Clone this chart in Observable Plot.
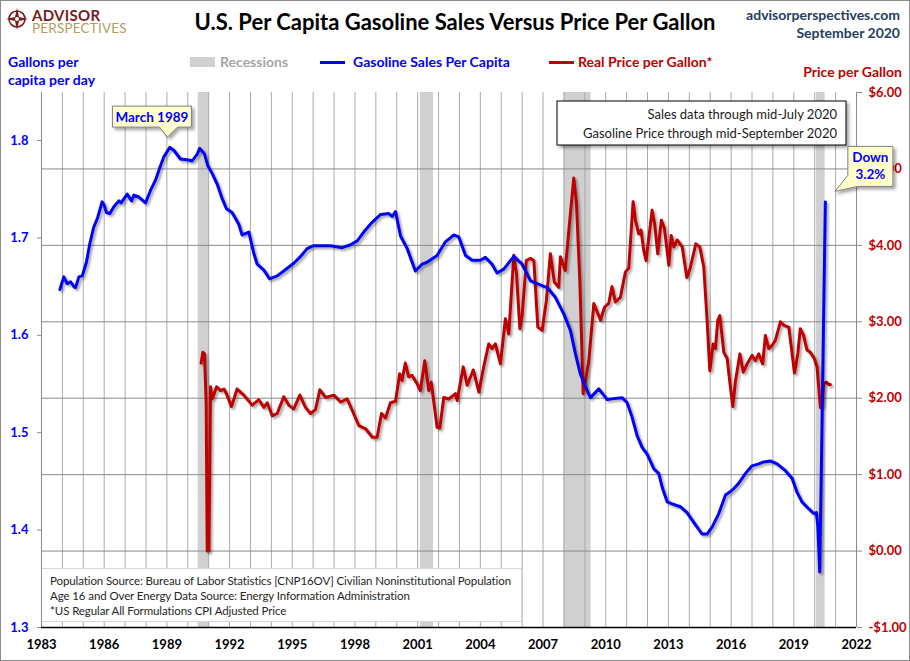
<!DOCTYPE html>
<html><head><meta charset="utf-8">
<script src="https://cdn.jsdelivr.net/npm/d3@7"></script>
<script src="https://cdn.jsdelivr.net/npm/@observablehq/plot@0.6"></script>
<style>
body{margin:0;background:#fff;font-family:Lato,"Open Sans",sans-serif;}
#wrap{position:relative;width:910px;height:661px;overflow:hidden;background:#fff;}
#header{position:relative;height:82px;}
.abs{position:absolute;white-space:nowrap;}
#frame{position:absolute;left:0;top:0;width:910px;height:661px;box-sizing:border-box;border:1px solid #8c8c8c;pointer-events:none;}
#overlay{position:absolute;left:0;top:0;pointer-events:none;}
#foot{position:absolute;left:42px;top:568px;width:480px;height:54px;background:#fff;border:1px solid #d6d6d6;border-left:none;box-sizing:border-box;font-size:11.5px;color:#262626;line-height:15px;padding:4px 0 0 8px;letter-spacing:-0.1px;}
</style></head><body>
<div id="wrap">
  <div id="header">
    <div class="abs" style="left:32px;top:9px;font-size:15px;font-weight:700;color:#7a1b1b;line-height:13px;letter-spacing:0.3px;">ADVISOR</div>
    <div class="abs" style="left:32px;top:22px;font-size:13.5px;font-weight:400;color:#b59c5c;line-height:12px;letter-spacing:0.2px;">PERSPECTIVES</div>
    <div class="abs" id="title" style="left:0;width:910px;text-align:center;top:9px;font-size:22px;font-weight:700;color:#000;line-height:26px;">U.S. Per Capita Gasoline Sales Versus Price Per Gallon</div>
    <div class="abs" style="right:10px;top:6px;font-size:14px;font-weight:700;color:#254061;line-height:18px;text-align:right;">advisorperspectives.com<br>September 2020</div>
    <div class="abs" style="left:8px;top:53px;font-size:14px;font-weight:700;color:#0000ff;line-height:18px;">Gallons per<br>capita per day</div>
    <div class="abs" style="right:8px;top:64px;font-size:14px;font-weight:700;color:#c00000;line-height:16px;">Price per Gallon</div>
    <div class="abs" style="left:190px;top:57px;width:25px;height:10px;background:#d0d0d0;"></div>
    <div class="abs" style="left:220px;top:54px;font-size:14px;font-weight:700;color:#a6a6a6;line-height:16px;">Recessions</div>
    <div class="abs" style="left:320px;top:61px;width:25px;height:3px;background:#0000ff;"></div>
    <div class="abs" style="left:353px;top:54px;font-size:14px;font-weight:700;color:#0000ff;line-height:16px;">Gasoline Sales Per Capita</div>
    <div class="abs" style="left:549px;top:61px;width:25px;height:3px;background:#c00000;"></div>
    <div class="abs" style="left:578px;top:54px;font-size:14px;font-weight:700;color:#c00000;line-height:16px;">Real Price per Gallon*</div>
  </div>
  <div id="chart"></div>
  <div id="foot">Population Source: Bureau of Labor Statistics [CNP16OV] Civilian Noninstitutional Population<br>Age 16 and Over Energy Data Source: Energy Information Administration<br>*US Regular All Formulations CPI Adjusted Price</div>
  <svg id="overlay" width="910" height="661"></svg>
  <div id="frame"></div>
</div>
<script>
// ---- Data ----
const salesYear = [1983.88,1984.07,1984.23,1984.39,1984.55,1984.63,1984.79,1984.95,1985.15,1985.31,1985.50,1985.69,1985.90,1986.01,1986.11,1986.27,1986.46,1986.70,1986.81,1987.10,1987.31,1987.42,1987.66,1987.98,1988.22,1988.45,1988.66,1988.85,1989.14,1989.33,1989.65,1990.05,1990.21,1990.45,1990.57,1990.80,1990.96,1991.17,1991.41,1991.65,1991.85,1992.12,1992.44,1992.60,1992.92,1993.16,1993.32,1993.64,1993.92,1994.28,1994.59,1995.07,1995.40,1995.71,1996.03,1996.35,1996.83,1997.39,1997.79,1998.11,1998.42,1998.82,1999.22,1999.62,1999.78,1999.94,2000.18,2000.50,2000.89,2001.21,2001.45,2001.93,2002.33,2002.73,2002.97,2003.29,2003.61,2004.00,2004.24,2004.56,2004.80,2005.12,2005.60,2006.00,2006.40,2006.72,2007.20,2007.59,2007.99,2008.31,2008.55,2008.79,2009.03,2009.27,2009.67,2010.07,2010.38,2010.78,2011.02,2011.26,2011.50,2011.74,2011.98,2012.30,2012.54,2012.70,2012.94,2013.18,2013.57,2013.89,2014.21,2014.61,2014.85,2015.09,2015.41,2015.73,2016.05,2016.36,2016.68,2017.00,2017.32,2017.56,2017.88,2018.20,2018.60,2018.92,2019.15,2019.39,2019.71,2019.95,2020.08,2020.15,2020.24,2020.33,2020.42,2020.51];
const salesValue = [1.647,1.660,1.653,1.655,1.650,1.649,1.660,1.661,1.675,1.694,1.711,1.721,1.737,1.733,1.726,1.725,1.732,1.738,1.736,1.745,1.738,1.744,1.742,1.736,1.749,1.759,1.772,1.783,1.793,1.790,1.781,1.780,1.779,1.786,1.792,1.786,1.774,1.766,1.755,1.740,1.730,1.726,1.714,1.703,1.706,1.684,1.673,1.667,1.658,1.661,1.666,1.674,1.681,1.689,1.692,1.692,1.692,1.690,1.693,1.697,1.706,1.716,1.724,1.725,1.722,1.727,1.702,1.689,1.666,1.673,1.675,1.682,1.696,1.703,1.701,1.682,1.677,1.677,1.680,1.673,1.664,1.668,1.681,1.673,1.656,1.653,1.649,1.639,1.622,1.605,1.581,1.560,1.547,1.536,1.545,1.534,1.535,1.536,1.531,1.516,1.497,1.485,1.478,1.463,1.458,1.444,1.429,1.427,1.424,1.418,1.408,1.396,1.396,1.403,1.417,1.436,1.441,1.448,1.458,1.466,1.468,1.470,1.471,1.468,1.461,1.453,1.439,1.429,1.422,1.417,1.418,1.403,1.357,1.480,1.610,1.737];

const priceYear = [1990.64,1990.72,1990.80,1990.88,1990.93,1991.01,1991.09,1991.17,1991.38,1991.57,1991.73,1991.85,1992.09,1992.36,1992.68,1993.08,1993.40,1993.64,1993.80,1994.04,1994.28,1994.59,1994.83,1995.07,1995.36,1995.63,1995.87,1996.11,1996.32,1996.59,1996.99,1997.31,1997.63,1998.19,1998.51,1998.83,1999.06,1999.27,1999.46,1999.70,1999.94,2000.14,2000.25,2000.41,2000.57,2000.73,2000.97,2001.13,2001.34,2001.53,2001.65,2001.93,2002.06,2002.25,2002.49,2002.81,2002.89,2003.18,2003.37,2003.66,2003.93,2004.16,2004.40,2004.56,2004.72,2004.96,2005.20,2005.36,2005.60,2005.73,2005.89,2006.00,2006.20,2006.40,2006.56,2006.75,2006.96,2007.16,2007.35,2007.54,2007.75,2007.83,2008.06,2008.28,2008.47,2008.60,2008.76,2008.92,2009.03,2009.19,2009.43,2009.59,2009.75,2009.94,2010.14,2010.30,2010.46,2010.70,2010.94,2011.10,2011.31,2011.42,2011.58,2011.69,2011.82,2011.93,2012.22,2012.34,2012.49,2012.66,2012.81,2013.02,2013.13,2013.26,2013.42,2013.66,2013.88,2014.04,2014.31,2014.50,2014.69,2014.85,2014.98,2015.14,2015.25,2015.36,2015.46,2015.65,2015.81,2015.93,2016.08,2016.21,2016.42,2016.58,2016.77,2017.00,2017.16,2017.32,2017.51,2017.64,2017.80,2017.96,2018.12,2018.36,2018.55,2018.76,2018.92,2019.03,2019.19,2019.31,2019.47,2019.63,2019.79,2019.98,2020.11,2020.19,2020.27,2020.35,2020.43,2020.56,2020.67,2020.75];
const priceValue = [2.46,2.60,2.58,1.93,0.00,0.00,2.15,1.99,2.15,2.10,2.12,2.06,1.89,2.12,2.04,1.91,1.98,1.88,1.94,1.77,1.80,2.02,1.91,1.86,2.04,1.88,1.80,1.85,2.11,2.01,2.04,1.95,1.99,1.64,1.60,1.49,1.49,1.80,1.74,1.94,1.96,2.32,2.23,2.46,2.28,2.30,2.19,2.10,2.49,2.10,2.21,1.62,1.61,2.01,1.99,2.06,1.97,2.41,2.17,2.37,2.08,2.41,2.71,2.65,2.71,2.45,3.04,2.84,3.87,3.63,2.91,3.08,3.80,3.83,3.80,2.93,2.89,3.28,3.89,3.52,3.45,3.85,3.67,4.33,4.88,4.55,3.54,2.06,2.23,2.49,3.24,3.13,3.02,3.19,3.24,3.46,3.26,3.32,3.65,3.70,4.57,4.33,4.15,4.20,3.93,3.80,4.46,4.28,3.89,4.33,4.22,3.74,4.13,3.98,4.07,3.98,3.58,3.70,4.02,3.98,3.72,3.02,2.36,2.71,2.65,3.02,3.08,2.60,2.52,2.23,1.89,2.23,2.58,2.34,2.45,2.56,2.49,2.58,2.45,2.82,2.65,2.69,2.76,3.00,2.95,2.93,2.58,2.33,2.58,2.91,2.82,2.63,2.60,2.52,2.41,2.15,1.88,1.91,2.19,2.21,2.18,2.18];

const recessionStart = [1990.50, 2001.13, 2008.00, 2020.08];
const recessionEnd   = [1991.04, 2001.76, 2009.30, 2020.50];

const xLabelYears = [1983,1986,1989,1992,1995,1998,2001,2004,2007,2010,2013,2016,2019,2022];
const gridYears = d3.range(1984, 2022);
const leftTicks = [1.3, 1.4, 1.5, 1.6, 1.7, 1.8];
const priceTicks = [-1, 0, 1, 2, 3, 4, 5, 6];

// ---- Scales ----
const yMin = 1.3, yTop = 1.8493, priceMin = -1, priceMax = 6;
const toLeft = p => yMin + (p - priceMin) * (yTop - yMin) / (priceMax - priceMin);
const toPrice = v => priceMin + (v - yMin) * (priceMax - priceMin) / (yTop - yMin);
const fmtPrice = p => { const r = Math.round(p * 100) / 100; return (r < 0 ? "-$" : "$") + Math.abs(r).toFixed(2); };

const sales = salesYear.map((x, i) => ({x, v: salesValue[i]}));
const price = priceYear.map((x, i) => ({x, v: toLeft(priceValue[i])}));
const recessions = recessionStart.map((s, i) => ({s, e: recessionEnd[i]}));

const chart = Plot.plot({
  width: 910, height: 579,
  marginTop: 10, marginBottom: 34, marginLeft: 41, marginRight: 54,
  style: {fontFamily: "Lato, 'Open Sans', sans-serif", fontSize: "13px", background: "transparent", overflow: "visible"},
  x: {domain: [1983, 2022], axis: null, label: null},
  y: {domain: [yMin, yTop], axis: null, label: null},
  marks: [
    Plot.rect(recessions, {x1: "s", x2: "e", y1: yMin, y2: yTop, fill: "#d0d0d0"}),
    Plot.ruleX(gridYears, {stroke: "#ababab", strokeWidth: 1}),
    Plot.ruleY(priceTicks.filter(p => p > priceMin && p < priceMax).map(toLeft), {stroke: "#8a8a8a", strokeWidth: 1}),
    Plot.ruleX([1983], {stroke: "#8a8a8a", strokeWidth: 1}),
    Plot.ruleX([2022], {stroke: "#8a8a8a", strokeWidth: 1}),
    Plot.ruleY([yMin], {stroke: "#000", strokeWidth: 1.5}),
    Plot.axisX(xLabelYears, {anchor: "bottom", label: null, tickSize: 0, tickPadding: 12, tickFormat: d => String(d), fontWeight: "bold", fontSize: 13, fill: "#000"}),
    Plot.axisY(leftTicks, {anchor: "left", label: null, tickSize: 4, tickPadding: 9, tickFormat: d => d.toFixed(1), fontWeight: "bold", fontSize: 13, fill: "#0000ff", stroke: "#8a8a8a"}),
    Plot.axisY(priceTicks.map(toLeft), {anchor: "right", label: null, tickSize: 5, tickPadding: 7, tickFormat: v => fmtPrice(toPrice(v)), fontWeight: "bold", fontSize: 13, fill: "#c00000", stroke: "#8a8a8a"}),
    Plot.line(price, {x: "x", y: "v", stroke: "#c00000", strokeWidth: 3}),
    Plot.line(sales, {x: "x", y: "v", stroke: "#0000ff", strokeWidth: 3})
  ]
});
document.getElementById("chart").appendChild(chart);
chart.querySelectorAll('g[aria-label="line"]').forEach(g => g.style.filter = "drop-shadow(2px 2px 1.2px rgba(0,0,0,0.35))");

// ---- Annotations (overlay) ----
const xs = chart.scale("x"), ys = chart.scale("y");
const offY = 82;
const ov = d3.select("#overlay");
const defs = ov.append("defs");
const f = defs.append("filter").attr("id", "sh").attr("x", "-20%").attr("y", "-20%").attr("width", "150%").attr("height", "160%");
f.append("feDropShadow").attr("dx", 2.5).attr("dy", 2.5).attr("stdDeviation", 1.5).attr("flood-color", "#000").attr("flood-opacity", 0.35);

// logo
const lg = ov.append("g").attr("transform", "translate(17,19)");
lg.append("circle").attr("r", 8).attr("fill", "none").attr("stroke", "#7a1b1b").attr("stroke-width", 1.6);
lg.append("path").attr("d", "M0,-11 L2,-2 L11,0 L2,2 L0,11 L-2,2 L-11,0 L-2,-2 Z").attr("fill", "#7a1b1b");
lg.append("circle").attr("r", 2).attr("fill", "#fff");

// March 1989 callout
{
  const tx = xs.apply(1989.05), ty = ys.apply(1.803) + offY;
  const L = tx - 55, R = tx + 24, T = ty - 31, B = ty - 10;
  ov.append("path").attr("d", `M${L},${T}H${R}V${B}H${tx + 10}L${tx},${ty}L${tx - 8},${B}H${L}Z`)
    .attr("fill", "#ffffcc").attr("stroke", "#7f7f7f").attr("stroke-width", 1).attr("filter", "url(#sh)");
  ov.append("text").attr("x", (L + R) / 2).attr("y", T + 15.5).attr("text-anchor", "middle")
    .attr("font-size", 13.5).attr("font-weight", 700).attr("fill", "#0000ff").attr("font-family", "Lato, sans-serif").text("March 1989");
}
// Sales data note box
{
  ov.append("rect").attr("x", 557).attr("y", 101).attr("width", 289).attr("height", 44)
    .attr("fill", "#fff").attr("stroke", "#000").attr("stroke-width", 1).attr("filter", "url(#sh)");
  ov.append("text").attr("x", 837).attr("y", 119).attr("text-anchor", "end").attr("font-size", 13)
    .attr("fill", "#1a1a1a").attr("font-family", "Lato, sans-serif").text("Sales data through mid-July 2020");
  ov.append("text").attr("x", 837).attr("y", 138).attr("text-anchor", "end").attr("font-size", 13)
    .attr("fill", "#1a1a1a").attr("font-family", "Lato, sans-serif").text("Gasoline Price through mid-September 2020");
}
// Down 3.2% callout
{
  const last = sales[sales.length - 1];
  const tx = xs.apply(last.x) + 10, ty = ys.apply(last.v) + offY - 10;
  const L = tx + 13, R = tx + 58, T = ty - 45, B = ty - 5;
  ov.append("path").attr("d", `M${L},${T}H${R}V${B}H${L + 10}L${tx},${ty}L${L},${B - 11}Z`)
    .attr("fill", "#ffffcc").attr("stroke", "#7f7f7f").attr("stroke-width", 1).attr("filter", "url(#sh)");
  ov.append("text").attr("x", (L + R) / 2).attr("y", T + 16).attr("text-anchor", "middle")
    .attr("font-size", 13.5).attr("font-weight", 700).attr("fill", "#0000ff").attr("font-family", "Lato, sans-serif").text("Down");
  ov.append("text").attr("x", (L + R) / 2).attr("y", T + 33).attr("text-anchor", "middle")
    .attr("font-size", 13.5).attr("font-weight", 700).attr("fill", "#0000ff").attr("font-family", "Lato, sans-serif").text("3.2%");
}
</script>
</body></html>
